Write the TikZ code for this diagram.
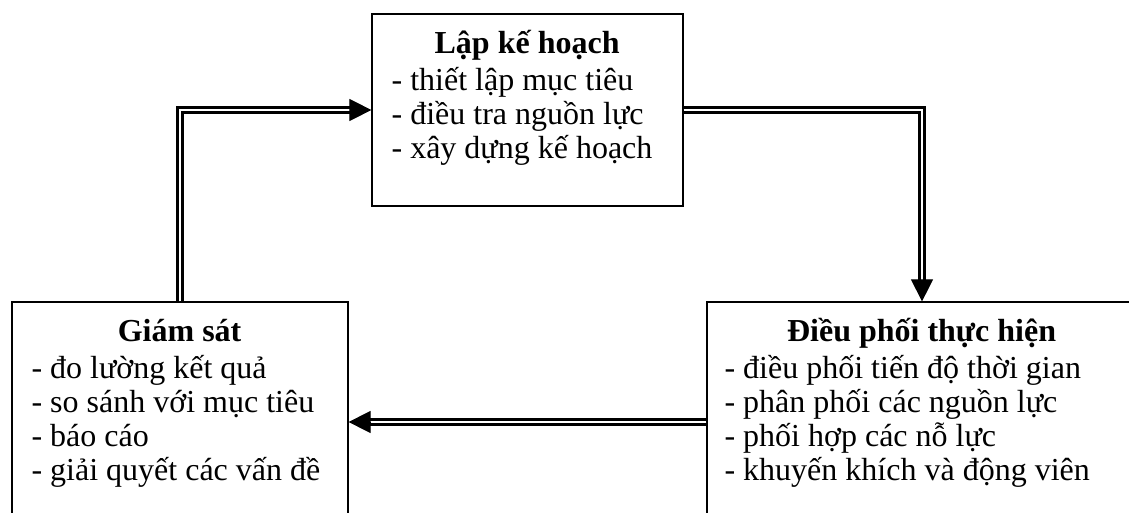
\documentclass[tikz,border=0pt]{standalone}
\usepackage{fontspec}
\setmainfont{Liberation Serif}
\usetikzlibrary{arrows.meta, positioning}
\tikzstyle{stage} = [rectangle, draw, line width=1.2pt, inner sep=0pt]
\tikzstyle{stage-text} = [inner sep=0pt, align=left, font=\fontsize{32}{34}\selectfont]
\tikzstyle{link} = [double, line width=2.5pt, double distance=2.5pt]
\tikzstyle{link-tip} = [-{Triangle[length=22pt, width=22pt]}, line width=1pt]
\newcommand{\stagetitle}[2]{\makebox[#1]{\rule{0pt}{40pt}\bfseries #2}}

\begin{document}
\begin{tikzpicture}[x=1pt, y=1pt]
    \useasboundingbox (0,0) rectangle (1129,512);
    \clip (0,0) rectangle (1129,512);

    \node (plan) [stage, minimum width=311pt, minimum height=192pt] at (527.5,402) {};
    \node (monitor) [stage, minimum width=336pt, minimum height=228pt] at (180,96) {};
    \node (exec) [stage, minimum width=430pt, minimum height=228pt] at (922,96) {};

    \node (plan-list) [stage-text, below right=0pt and 20pt of plan.north west] {\stagetitle{271pt}{Lập kế hoạch}\\[3pt]
        - thiết lập mục tiêu\\
        - điều tra nguồn lực\\
        - xây dựng kế hoạch};
    \node (monitor-list) [stage-text, below right=0pt and 20pt of monitor.north west] {\stagetitle{296pt}{Giám sát}\\[3pt]
        - đo lường kết quả\\
        - so sánh với mục tiêu\\
        - báo cáo\\
        - giải quyết các vấn đề};
    \node (exec-list) [stage-text, below right=0pt and 18pt of exec.north west] {\stagetitle{394pt}{Điều phối thực hiện}\\[3pt]
        - điều phối tiến độ thời gian\\
        - phân phối các nguồn lực\\
        - phối hợp các nỗ lực\\
        - khuyến khích và động viên};

    % cycle
    \draw[link] (monitor.north) |- ([xshift=-20pt] plan.west);
    \draw[link-tip] ([xshift=-21pt] plan.west) -- (plan.west);

    \draw[link] (plan.east) -| ([yshift=20pt] exec.north);
    \draw[link-tip] ([yshift=21pt] exec.north) -- (exec.north);

    \draw[link] ([yshift=-6pt] exec.west) -- ([xshift=20pt, yshift=-6pt] monitor.east);
    \draw[link-tip] ([xshift=21pt, yshift=-6pt] monitor.east) -- ([yshift=-6pt] monitor.east);
\end{tikzpicture}
\end{document}
